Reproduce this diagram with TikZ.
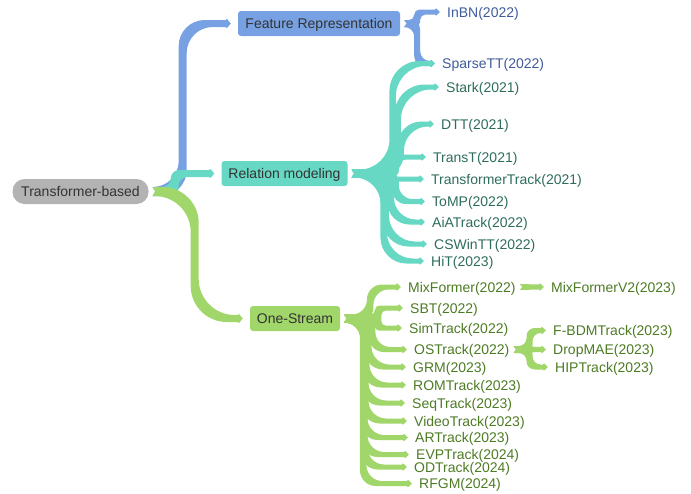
\documentclass[tikz,border=0pt]{standalone}
\usepackage{fontspec}
\setmainfont{Liberation Sans}

\definecolor{rootgray}{HTML}{B3B3B3}
\definecolor{featblue}{HTML}{78A1E3}
\definecolor{relteal}{HTML}{66D8C4}
\definecolor{onegreen}{HTML}{A0D66A}
\definecolor{boxtext}{HTML}{333333}
\definecolor{bluetext}{HTML}{3F5B9B}
\definecolor{tealtext}{HTML}{2E6C5C}
\definecolor{greentext}{HTML}{4D7B24}

\tikzset{
  mmfont/.style={font=\fontsize{14}{16}\selectfont, text height=10pt, text depth=0pt},
  mmbox/.style={mmfont, inner sep=0pt, minimum height=25pt, rounded corners=3pt, text=boxtext},
  rootbox/.style={mmbox, rounded corners=12pt, fill=rootgray, minimum width=136pt},
  leaf/.style={mmfont, inner sep=0pt, anchor=west},
  bleaf/.style={leaf, text=bluetext},
  tleaf/.style={leaf, text=tealtext},
  gleaf/.style={leaf, text=greentext},
}

% Tapered mind-map branch from the east side of one node to the west side of another.
% #1 colour, #2 from node, #3 to node, #4 x offset of the vertical run,
% #5 bend radius, #6 half width at start, #7 half width at end
\newcommand\mmbranch[7]{%
  \pgfpointanchor{#2}{east}\pgfgetlastxy{\mmXa}{\mmYa}%
  \pgfpointanchor{#3}{west}\pgfgetlastxy{\mmXb}{\mmYb}%
  \pgfmathsetmacro\mmXa{\mmXa+4}%
  \pgfmathsetmacro\mmXb{\mmXb-12}%
  \pgfmathsetmacro\mmYa{\mmYa}%
  \pgfmathsetmacro\mmYb{\mmYb}%
  \pgfmathsetmacro\mmXm{\mmXa+#4}%
  \pgfmathsetmacro\mmA{#6}%
  \pgfmathsetmacro\mmC{#7}%
  \pgfmathsetmacro\mmB{(#6+#7)/2}%
  \pgfmathsetmacro\mmDy{\mmYb-\mmYa}%
  \pgfmathsetmacro\mmAbs{abs(\mmDy)}%
  \pgfmathsetmacro\mmYaP{\mmYa+\mmA}%
  \pgfmathsetmacro\mmYaM{\mmYa-\mmA}%
  \pgfmathsetmacro\mmYbP{\mmYb+\mmC}%
  \pgfmathsetmacro\mmYbM{\mmYb-\mmC}%
  \pgfmathsetmacro\mmTipP{\mmYbP+1.2}%
  \pgfmathsetmacro\mmTipM{\mmYbM-1.2}%
  \pgfmathsetmacro\mmXt{\mmXb+1}%
  \pgfmathsetmacro\mmXp{\mmXb+5}%
  \pgfmathsetmacro\mmXn{\mmXa+2.5}%
  \ifdim\mmAbs pt<1.5pt
    \fill[#1] (\mmXa pt,\mmYaP pt) -- (\mmXb pt,\mmYbP pt) -- (\mmXt pt,\mmTipP pt)
      -- (\mmXp pt,\mmYb pt) -- (\mmXt pt,\mmTipM pt) -- (\mmXb pt,\mmYbM pt)
      -- (\mmXa pt,\mmYaM pt) -- (\mmXn pt,\mmYa pt) -- cycle;
  \else
    \pgfmathsetmacro\mmS{\mmDy>0 ? 1 : -1}%
    \pgfmathsetmacro\mmR{max(0,min(#5,(\mmAbs-abs(\mmA-\mmC))/2,\mmXm-\mmB-\mmXa,\mmXb-\mmXm-\mmB))}%
    \pgfmathsetmacro\mmRs{\mmS*\mmR}%
    \pgfmathsetmacro\mmK{0.552*\mmR}%
    \pgfmathsetmacro\mmKs{0.552*\mmRs}%
    \pgfmathsetmacro\mmCxP{\mmXm-\mmS*\mmB}%
    \pgfmathsetmacro\mmCxM{\mmXm+\mmS*\mmB}%
    % side on the positive y offset
    \pgfmathsetmacro\mmPa{\mmCxP-\mmR}%
    \pgfmathsetmacro\mmPaK{\mmPa+\mmK}%
    \pgfmathsetmacro\mmPb{\mmYaP+\mmRs}%
    \pgfmathsetmacro\mmPbK{\mmPb-\mmKs}%
    \pgfmathsetmacro\mmPc{\mmYbP-\mmRs}%
    \pgfmathsetmacro\mmPcK{\mmPc+\mmKs}%
    \pgfmathsetmacro\mmPd{\mmCxP+\mmR}%
    \pgfmathsetmacro\mmPdK{\mmPd-\mmK}%
    % side on the negative y offset
    \pgfmathsetmacro\mmQa{\mmCxM+\mmR}%
    \pgfmathsetmacro\mmQaK{\mmQa-\mmK}%
    \pgfmathsetmacro\mmQb{\mmYbM-\mmRs}%
    \pgfmathsetmacro\mmQbK{\mmQb+\mmKs}%
    \pgfmathsetmacro\mmQc{\mmYaM+\mmRs}%
    \pgfmathsetmacro\mmQcK{\mmQc-\mmKs}%
    \pgfmathsetmacro\mmQd{\mmCxM-\mmR}%
    \pgfmathsetmacro\mmQdK{\mmQd+\mmK}%
    \fill[#1] (\mmXa pt,\mmYaP pt) -- (\mmPa pt,\mmYaP pt)
      .. controls (\mmPaK pt,\mmYaP pt) and (\mmCxP pt,\mmPbK pt) .. (\mmCxP pt,\mmPb pt)
      -- (\mmCxP pt,\mmPc pt)
      .. controls (\mmCxP pt,\mmPcK pt) and (\mmPdK pt,\mmYbP pt) .. (\mmPd pt,\mmYbP pt)
      -- (\mmXb pt,\mmYbP pt) -- (\mmXt pt,\mmTipP pt) -- (\mmXp pt,\mmYb pt)
      -- (\mmXt pt,\mmTipM pt) -- (\mmXb pt,\mmYbM pt)
      -- (\mmQa pt,\mmYbM pt)
      .. controls (\mmQaK pt,\mmYbM pt) and (\mmCxM pt,\mmQbK pt) .. (\mmCxM pt,\mmQb pt)
      -- (\mmCxM pt,\mmQc pt)
      .. controls (\mmCxM pt,\mmQcK pt) and (\mmQdK pt,\mmYaM pt) .. (\mmQd pt,\mmYaM pt)
      -- (\mmXa pt,\mmYaM pt) -- (\mmXn pt,\mmYa pt) -- cycle;
  \fi}

\begin{document}
\begin{tikzpicture}[x=1pt,y=-1pt]
\useasboundingbox (0,0) rectangle (691,493);

% main topics
\node[rootbox] (root) at (80.5,191.5) {Transformer-based};
\node[mmbox, fill=featblue, minimum width=162pt] (feat) at (319,23.5) {Feature Representation};
\node[mmbox, fill=relteal, minimum width=126pt] (rel) at (284.5,173.5) {Relation modeling};
\node[mmbox, fill=onegreen, minimum width=90pt] (one) at (295,318.5) {One-Stream};

% feature representation
\node[bleaf] (inbn) at (447,12) {InBN(2022)};
\node[bleaf] (sparse) at (442,63.5) {SparseTT(2022)};

% relation modeling
\node[tleaf] (stark) at (446,87) {Stark(2021)};
\node[tleaf] (dtt) at (441,124) {DTT(2021)};
\node[tleaf] (transt) at (433,157) {TransT(2021)};
\node[tleaf] (trtrack) at (431,179) {TransformerTrack(2021)};
\node[tleaf] (tomp) at (432,201.5) {ToMP(2022)};
\node[tleaf] (aia) at (432,222) {AiATrack(2022)};
\node[tleaf] (cswin) at (434,244) {CSWinTT(2022)};
\node[tleaf] (hit) at (431,261) {HiT(2023)};

% one-stream
\node[gleaf] (mixf) at (408,287) {MixFormer(2022)};
\node[gleaf] (mixf2) at (551,287) {MixFormerV2(2023)};
\node[gleaf] (sbt) at (410,308) {SBT(2022)};
\node[gleaf] (sim) at (409,328) {SimTrack(2022)};
\node[gleaf] (ost) at (414,349.5) {OSTrack(2022)};
\node[gleaf] (fbdm) at (553,330.5) {F-BDMTrack(2023)};
\node[gleaf] (drop) at (553,349.5) {DropMAE(2023)};
\node[gleaf] (hip) at (555,367) {HIPTrack(2023)};
\node[gleaf] (grm) at (413,367) {GRM(2023)};
\node[gleaf] (rom) at (413,385) {ROMTrack(2023)};
\node[gleaf] (seq) at (412,403) {SeqTrack(2023)};
\node[gleaf] (video) at (414,421) {VideoTrack(2023)};
\node[gleaf] (ar) at (415,437.5) {ARTrack(2023)};
\node[gleaf] (evp) at (416,454.5) {EVPTrack(2024)};
\node[gleaf] (od) at (414,467) {ODTrack(2024)};
\node[gleaf] (rfgm) at (419,483.5) {RFGM(2024)};

% branches from the root
\mmbranch{featblue}{root}{feat}{30}{30}{4.5}{3.5}
\mmbranch{relteal}{root}{rel}{22}{10}{4.5}{3.5}
\mmbranch{onegreen}{root}{one}{42}{36}{4.5}{3.5}

% feature representation branches
\mmbranch{featblue}{feat}{inbn}{13}{6}{3.5}{2.5}
\mmbranch{featblue}{feat}{sparse}{13}{10}{3.5}{2.5}

% relation modeling branches
\mmbranch{relteal}{rel}{sparse}{41}{30}{4}{2.5}
\mmbranch{relteal}{rel}{stark}{46}{30}{4}{2.5}
\mmbranch{relteal}{rel}{dtt}{49}{26}{4}{2.5}
\mmbranch{relteal}{rel}{transt}{44}{12}{4}{2.5}
\mmbranch{relteal}{rel}{trtrack}{40}{4}{4}{2.5}
\mmbranch{relteal}{rel}{tomp}{44}{14}{4}{2.5}
\mmbranch{relteal}{rel}{aia}{39}{22}{4}{2.5}
\mmbranch{relteal}{rel}{cswin}{34}{26}{4}{2.5}
\mmbranch{relteal}{rel}{hit}{32}{26}{4}{2.5}

% one-stream branches
\mmbranch{onegreen}{one}{mixf}{26}{18}{4}{2.5}
\mmbranch{onegreen}{one}{sbt}{34}{8}{4}{2.5}
\mmbranch{onegreen}{one}{sim}{34}{8}{4}{2.5}
\mmbranch{onegreen}{one}{ost}{28}{18}{4}{2.5}
\mmbranch{onegreen}{one}{grm}{24}{18}{4}{2.5}
\mmbranch{onegreen}{one}{rom}{22}{18}{4}{2.5}
\mmbranch{onegreen}{one}{seq}{21}{18}{4}{2.5}
\mmbranch{onegreen}{one}{video}{21}{18}{4}{2.5}
\mmbranch{onegreen}{one}{ar}{20}{18}{4}{2.5}
\mmbranch{onegreen}{one}{evp}{20}{18}{4}{2.5}
\mmbranch{onegreen}{one}{od}{20}{18}{4}{2.5}
\mmbranch{onegreen}{one}{rfgm}{19}{18}{4}{2.5}

% second-level one-stream branches
\mmbranch{onegreen}{mixf}{mixf2}{10}{5}{3}{2.5}
\mmbranch{onegreen}{ost}{fbdm}{16}{8}{3.5}{2.5}
\mmbranch{onegreen}{ost}{drop}{16}{8}{3.5}{2.5}
\mmbranch{onegreen}{ost}{hip}{16}{8}{3.5}{2.5}
\end{tikzpicture}
\end{document}
